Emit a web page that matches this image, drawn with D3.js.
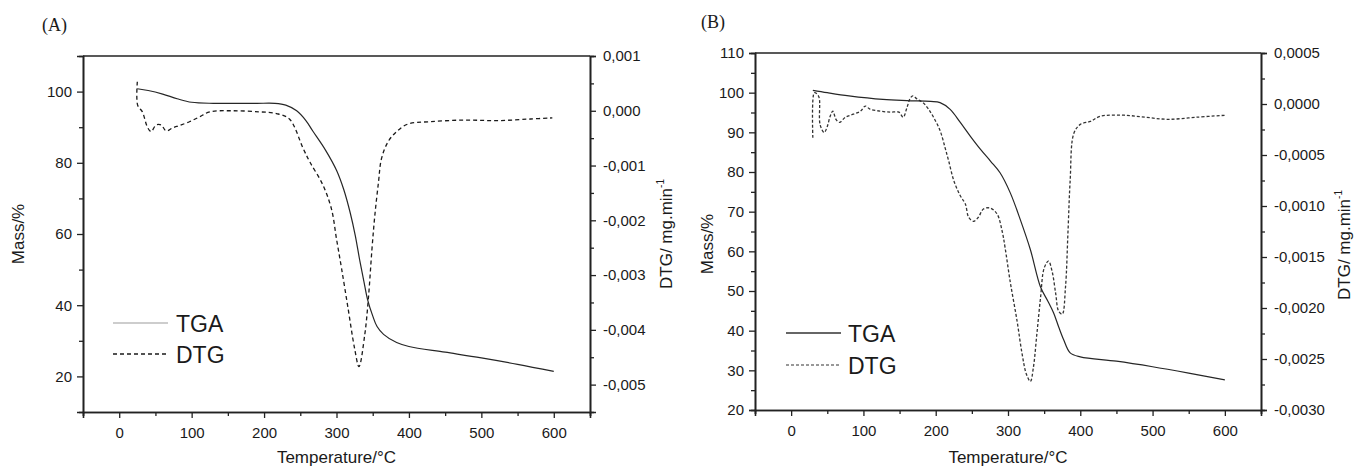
<!DOCTYPE html>
<html lang="en">
<head>
  <meta charset="utf-8">
  <title>TGA / DTG curves</title>
  <script src="https://d3js.org/d3.v7.min.js"></script>
  <style type="text/css">
    body { margin: 0; background: #fff; }
    text { font-family: "Liberation Sans", Arial, sans-serif; fill: #1a1a1a; }
    .domain { stroke: #222; stroke-width: 1.6px; }
    .tick line { stroke: #222; stroke-width: 1.3px; }
  </style>
</head>
<body>
<svg id="chart" width="1357" height="468"></svg>
<script type="text/javascript">

// panel A
var tgaTempA = [25, 40, 60, 80, 100, 130, 160, 190, 215, 230, 245, 258, 267, 285, 300, 310, 319, 326, 332, 338, 343, 350, 356, 365, 383, 400, 450, 500, 550, 600];
var tgaMassA = [100.8, 100.3, 99.3, 98.0, 97.0, 96.7, 96.7, 96.7, 96.7, 96.2, 94.6, 91.8, 89.0, 83.5, 77.9, 72.5, 65.9, 59.5, 52.7, 46.5, 41.5, 37.0, 34.0, 31.8, 29.5, 28.4, 26.8, 25.2, 23.4, 21.4];
var dtgTempA = [25, 25.5, 32, 39, 44, 51, 58, 65, 74, 83, 97, 111, 125, 157, 194, 217, 235, 254, 263, 281, 293, 300, 307, 316, 325, 331, 339, 344, 349, 353, 358, 362, 371, 383, 399, 429, 475, 522, 568, 598];
var dtgValA = [0.00053, 0.0001, -0.00002, -0.0003, -0.00038, -0.00026, -0.00026, -0.00037, -0.00031, -0.00027, -0.0002, -0.00011, -0.00002, 0, -0.00002, -0.00005, -0.00015, -0.00069, -0.00093, -0.00135, -0.00179, -0.00234, -0.00288, -0.00361, -0.00434, -0.00467, -0.00409, -0.00343, -0.00252, -0.0019, -0.0013, -0.00088, -0.00057, -0.00038, -0.00024, -0.0002, -0.00017, -0.00018, -0.00015, -0.00013];

// panel B
var tgaTempB = [30, 50, 80, 127, 160, 193, 206, 220, 234, 248, 262, 276, 289, 303, 317, 331, 345, 355, 363, 370, 377, 386, 400, 450, 500, 550, 600];
var tgaMassB = [100.6, 100.0, 99.2, 98.3, 98.0, 97.8, 97.5, 95.8, 92.5, 89.0, 85.7, 82.7, 79.8, 74.8, 68.0, 60.4, 51.0, 47.5, 44.5, 41.0, 37.7, 34.4, 33.4, 32.3, 30.9, 29.3, 27.6];
var dtgTempB = [30, 32, 35.5, 38.8, 40, 45.7, 50, 54, 57.7, 62, 67, 75, 86, 96, 102.5, 109, 123, 137, 149, 155, 160, 165, 168.5, 174, 183, 190, 197, 206, 213, 218, 225, 234, 241, 245.6, 252.5, 259, 266, 275.6, 285, 292, 296, 303, 312.6, 319.5, 325.5, 331, 335, 340, 345, 350, 356, 361, 366, 370, 375, 379.5, 383, 386, 391, 400, 414, 428, 460, 490, 521, 560, 601];
var dtgValB = [-0.00033, 0.00011, 0.0001, 0.00006, -0.0002, -0.00028, -0.00022, -0.00012, -0.00007, -0.00015, -0.00018, -0.00013, -0.0001, -0.00007, -0.00002, -0.00005, -0.00007, -0.00008, -0.00008, -0.00013, -0.00004, 0.00006, 0.00008, 0.00005, 0.00001, -0.00005, -0.00013, -0.00026, -0.00043, -0.00056, -0.00075, -0.0009, -0.00098, -0.00111, -0.00115, -0.00111, -0.00103, -0.00102, -0.00108, -0.00125, -0.00141, -0.00174, -0.00213, -0.00245, -0.00265, -0.00272, -0.00259, -0.00225, -0.0019, -0.00161, -0.00154, -0.00164, -0.00186, -0.00203, -0.00206, -0.0018, -0.00125, -0.00075, -0.00029, -0.0002, -0.00017, -0.00012, -0.00011, -0.00013, -0.00015, -0.00013, -0.00011];

// axis tick values
var tempTicks = [0, 100, 200, 300, 400, 500, 600];
var tempMinor = [-50, 50, 150, 250, 350, 450, 550, 650];
var massTicksA = [20, 40, 60, 80, 100];
var massMinorA = [30, 50, 70, 90];
var dtgTicksA = [0.001, 0, -0.001, -0.002, -0.003, -0.004, -0.005];
var dtgMinorA = [0.0005, -0.0005, -0.0015, -0.0025, -0.0035, -0.0045];
var massTicksB = [20, 30, 40, 50, 60, 70, 80, 90, 100, 110];
var massMinorB = [25, 35, 45, 55, 65, 75, 85, 95, 105];
var dtgTicksB = [0.0005, 0, -0.0005, -0.001, -0.0015, -0.002, -0.0025, -0.003];
var dtgMinorB = [0.00025, -0.00025, -0.00075, -0.00125, -0.00175, -0.00225, -0.00275];

var locale = d3.formatLocale({decimal: ",", thousands: ".", grouping: [3], currency: ["", ""], minus: "-"});
var svg = d3.select('#chart');

function drawPanel(p) {
  var g = svg.append('g');
  var x = d3.scaleLinear().domain([-50, 650]).range([p.left, p.right]);
  var yL = d3.scaleLinear().domain(p.massDomain).range([p.bottom, p.top]);
  var yR = d3.scaleLinear().domain(p.dtgDomain).range([p.bottom, p.top]);

  // frame top line
  g.append('line')
    .attr('x1', p.left).attr('x2', p.right)
    .attr('y1', p.top).attr('y2', p.top)
    .attr('stroke', '#222').attr('stroke-width', 1.4);

  g.append('g').attr('transform', 'translate(0,' + p.bottom + ')')
    .call(d3.axisBottom(x).tickValues(tempTicks).tickSize(6).tickPadding(9).tickFormat(d3.format('d')))
    .call(styleAxis);
  g.append('g').attr('transform', 'translate(0,' + p.bottom + ')')
    .call(d3.axisBottom(x).tickValues(tempMinor).tickSize(4).tickFormat(''))
    .call(styleAxis);

  g.append('g').attr('transform', 'translate(' + p.left + ',0)')
    .call(d3.axisLeft(yL).tickValues(p.massTicks).tickSize(6).tickPadding(5).tickFormat(d3.format('d')))
    .call(styleAxis);
  g.append('g').attr('transform', 'translate(' + p.left + ',0)')
    .call(d3.axisLeft(yL).tickValues(p.massMinor).tickSize(4).tickFormat(''))
    .call(styleAxis);

  g.append('g').attr('transform', 'translate(' + p.right + ',0)')
    .call(d3.axisRight(yR).tickValues(p.dtgTicks).tickSize(6).tickPadding(7).tickFormat(locale.format(p.dtgFormat)))
    .call(styleAxis);
  g.append('g').attr('transform', 'translate(' + p.right + ',0)')
    .call(d3.axisRight(yR).tickValues(p.dtgMinor).tickSize(4).tickFormat(''))
    .call(styleAxis);

  var tga = p.tgaTemp.map(function(t, i) { return [x(t), yL(p.tgaMass[i])]; });
  var dtg = p.dtgTemp.map(function(t, i) { return [x(t), yR(p.dtgVal[i])]; });
  var line = d3.line().curve(d3.curveCatmullRom.alpha(0.5));

  g.append('path').attr('d', line(dtg))
    .attr('fill', 'none').attr('stroke', p.dtgColor).attr('stroke-width', 1.3)
    .attr('stroke-dasharray', p.dtgDash);
  g.append('path').attr('d', line(tga))
    .attr('fill', 'none').attr('stroke', '#262626').attr('stroke-width', 1.2);

  // axis titles
  var cx = (p.left + p.right) / 2;
  g.append('text').attr('x', cx).attr('y', 463)
    .attr('text-anchor', 'middle').attr('font-size', 17).text('Temperature/°C');
  g.append('text')
    .attr('transform', 'translate(' + p.massTitle[0] + ',' + p.massTitle[1] + ') rotate(-90)')
    .attr('text-anchor', 'middle').attr('font-size', 17).text('Mass/%');
  var rt = g.append('text')
    .attr('transform', 'translate(' + p.dtgTitle[0] + ',' + p.dtgTitle[1] + ') rotate(-90)')
    .attr('text-anchor', 'middle').attr('font-size', 17);
  rt.append('tspan').text('DTG/ mg.min');
  rt.append('tspan').attr('font-size', 10).attr('dy', -8).text('-1');

  // panel letter
  g.append('text').attr('x', p.letter[0]).attr('y', p.letter[1])
    .style('font-family', '"Liberation Serif", "Times New Roman", serif')
    .attr('font-size', 18).text(p.letterText);

  // legend
  var lg = p.legend;
  g.append('line').attr('x1', lg.x1).attr('x2', lg.x2).attr('y1', lg.y1).attr('y2', lg.y1)
    .attr('stroke', lg.tgaColor).attr('stroke-width', 1.5);
  g.append('line').attr('x1', lg.x1).attr('x2', lg.x2 - 2).attr('y1', lg.y2).attr('y2', lg.y2)
    .attr('stroke', lg.dtgColor).attr('stroke-width', 1.4).attr('stroke-dasharray', p.dtgDash);
  g.append('text').attr('x', lg.tx).attr('y', lg.y1 + 9).attr('font-size', 23).text('TGA');
  g.append('text').attr('x', lg.tx).attr('y', lg.y2 + 9).attr('font-size', 23).text('DTG');
}

function styleAxis(sel) {
  sel.select('.domain').attr('stroke', '#222');
  sel.selectAll('.tick text').attr('font-size', 15).attr('fill', '#1a1a1a')
    .style('font-family', '"Liberation Sans", Arial, sans-serif');
}

drawPanel({
  left: 83, right: 590, top: 56, bottom: 412,
  massDomain: [10, 110], dtgDomain: [-0.0055, 0.001],
  massTicks: massTicksA, massMinor: massMinorA,
  dtgTicks: dtgTicksA, dtgMinor: dtgMinorA, dtgFormat: '.3f',
  tgaTemp: tgaTempA, tgaMass: tgaMassA, dtgTemp: dtgTempA, dtgVal: dtgValA,
  dtgColor: '#1a1a1a', dtgDash: '4,3',
  massTitle: [24, 234], dtgTitle: [672, 234],
  letter: [42, 31], letterText: '(A)',
  legend: {x1: 113, x2: 168, y1: 323, y2: 354, tx: 176, tgaColor: '#bdbdbd', dtgColor: '#1a1a1a'}
});

drawPanel({
  left: 755, right: 1261, top: 53, bottom: 410,
  massDomain: [20, 110], dtgDomain: [-0.003, 0.0005],
  massTicks: massTicksB, massMinor: massMinorB,
  dtgTicks: dtgTicksB, dtgMinor: dtgMinorB, dtgFormat: '.4f',
  tgaTemp: tgaTempB, tgaMass: tgaMassB, dtgTemp: dtgTempB, dtgVal: dtgValB,
  dtgColor: '#333', dtgDash: '3,2',
  massTitle: [713, 244], dtgTitle: [1350, 245],
  letter: [701, 28], letterText: '(B)',
  legend: {x1: 786, x2: 841, y1: 333, y2: 365, tx: 848, tgaColor: '#333', dtgColor: '#777'}
});

</script>
</body>
</html>
